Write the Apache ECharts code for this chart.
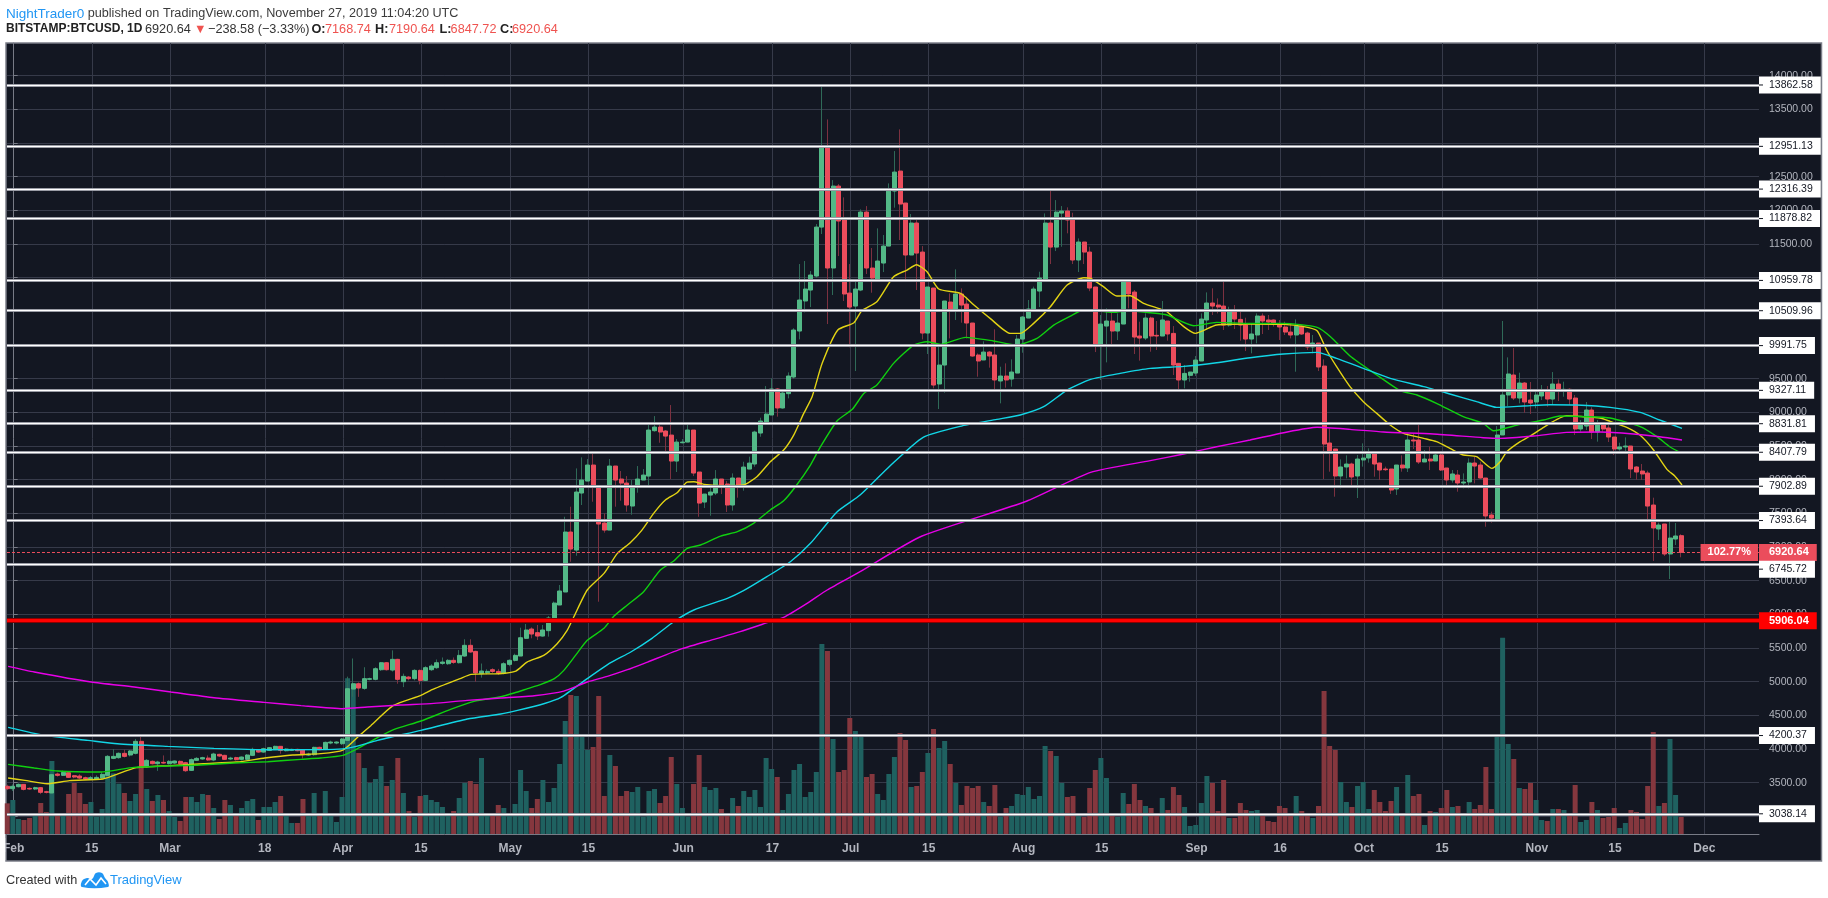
<!DOCTYPE html>
<html><head><meta charset="utf-8">
<style>html,body{margin:0;padding:0;background:#fff}#c{width:1828px;height:898px}</style>
<script src="https://cdn.jsdelivr.net/npm/echarts@6/dist/echarts.min.js"></script>
</head><body><div id="c"></div>
<script>
// day numbers: 0 = 1 Feb 2019. Each row: [open, close, low, high]
const jan = [[3446,3411,3390,3470]];
const feb = [[3411,3446,3376,3475],[3440,3475,3430,3490],[3475,3401,3385,3480],[3416,3406,3395,3430],[3406,3426,3390,3440],[3426,3357,3330,3435],[3366,3357,3340,3380],[3347,3619,3340,3635],[3629,3609,3590,3650],[3609,3654,3600,3680],
[3649,3579,3570,3655],[3604,3584,3565,3615],[3599,3569,3555,3625],[3574,3555,3545,3590],[3555,3574,3545,3600],[3555,3579,3540,3610],[3569,3624,3560,3660],[3609,3891,3600,3910],[3861,3891,3850,4000],[3872,3936,3855,3950],
[3936,3891,3875,3990],[3911,3971,3890,3985],[3936,4114,3920,4150],[4114,3733,3700,4190],[3733,3832,3722,3850],[3817,3782,3770,3830],[3782,3807,3675,3825],[3802,3792,3780,3905]];
const mar = [[3782,3817,3770,3835],[3792,3822,3775,3830],[3817,3782,3770,3830],[3797,3678,3660,3810],[3683,3842,3675,3860],[3832,3861,3825,3880],[3852,3872,3840,3885],[3866,3837,3825,3905],[3837,3926,3820,3945],[3921,3896,3880,3930],
[3906,3847,3840,3915],[3852,3866,3835,3885],[3872,3842,3830,3885],[3847,3881,3830,3890],[3847,3911,3835,3925],[3906,3995,3895,4020],[3990,3955,3945,4000],[3955,4005,3945,4020],[3980,4020,3970,4030],[3995,4040,3985,4050],
[4040,3980,3930,4045],[3975,4000,3965,4010],[3980,3995,3970,4005],[3995,3975,3965,4005],[3990,3916,3860,4000],[3910,3925,3895,3945],[3916,4025,3900,4035],[4025,3990,3980,4035],[3995,4099,3985,4110],[4089,4104,4070,4125],[4089,4104,4070,4115]];
const apr = [[4079,4149,4060,4165],[4129,4896,4120,5075],[4891,4970,4775,5345],[4970,4906,4775,4990],[4901,5045,4880,5215],[5035,5045,5020,5060],[5035,5193,5020,5215],[5178,5282,5160,5290],[5282,5178,5165,5290],[5173,5332,5150,5465],
[5332,5035,4970,5340],[5000,5079,4920,5120],[5069,5045,5020,5085],[5045,5168,5020,5185],[5168,5020,4960,5180],[5020,5208,5010,5230],[5178,5233,5160,5260],[5208,5282,5190,5330],[5272,5292,5250,5360],[5267,5317,5250,5335],
[5317,5287,5265,5360],[5282,5391,5270,5470],[5381,5540,5370,5630],[5540,5441,5430,5630],[5450,5129,5000,5460],[5119,5158,5060,5270],[5134,5153,5110,5185],[5178,5153,5130,5200],[5153,5129,5100,5190],[5129,5267,5110,5290]];
const may = [[5257,5317,5230,5332],[5317,5391,5300,5416],[5381,5653,5381,5802],[5644,5768,5634,5857],[5782,5708,5644,5807],[5728,5678,5619,5842],[5678,5768,5669,5842],[5758,5946,5669,5975],[5946,6168,5946,6190],[6139,6347,6139,6436],
[6332,7223,6332,7450],[7223,6970,6782,7599],[6955,7817,6871,8168],[7802,7995,7624,8332],[7980,8218,7980,8307],[8218,7886,7673,8391],[7896,7342,6188,7896],[7356,7252,7213,7500],[7252,8203,7252,8307],[8203,7995,7599,8203],
[8010,7950,7688,8129],[7950,7624,7525,8054],[7609,7891,7480,7995],[7886,8010,7807,8203],[7995,8069,7995,8158],[8054,8738,7896,8812],[8728,8782,8713,8945],[8782,8708,8549,8827],[8723,8648,8426,8738],[8663,8277,8010,9109],[8277,8559,8114,8604]];
const jun = [[8549,8559,8539,8604],[8559,8738,8559,8851],[8738,8099,8054,8738],[8114,7653,7450,8114],[7668,7787,7579,7787],[7772,7817,7465,7896],[7802,8010,7772,8143],[8010,7906,7787,8010],[7936,7624,7520,7980],[7624,8025,7540,8094],
[8025,7921,7733,8025],[7921,8188,7837,8267],[8158,8247,8158,8342],[8233,8708,8193,8728],[8693,8871,8638,8921],[8851,8975,8812,9391],[8961,9347,8960,9505],[9347,9065,8936,9360],[9065,9287,9055,9332],[9278,9540,9208,9594],
[9525,10223,9500,10250],[10208,10669,10084,11203],[10654,10832,10485,11248],[10817,11040,10564,11099],[11025,11752,11000,11797],[11752,12926,11649,13876],[12926,11144,10312,13351],[11144,12361,10743,12450],[12361,11842,11322,12391],[11871,10758,10654,12193]];
const jul = [[10772,10564,9966,11203],[10579,10832,9614,10941],[10817,11975,10800,12015],[11975,11144,11055,12064],[11144,10995,10777,11441],[10980,11248,10980,11733],[11218,11470,11084,11634],[11470,12287,11470,12401],[12287,12569,12040,12881],[12584,12094,11560,13203],
[12109,11337,10966,12109],[11337,11812,11337,11946],[11812,11366,10817,11857],[11381,10178,10084,11470],[10178,10862,9867,10862],[10847,9406,9357,10847],[9421,9703,9050,10015],[9703,10654,9292,10654],[10639,10520,10099,10767],[10520,10758,10372,11124],
[10758,10594,10332,10842],[10609,10327,10099,10718],[10327,9837,9827,10327],[9852,9763,9530,9876],[9778,9896,9778,10055],[9896,9837,9664,9911],[9852,9481,9307,10233],[9466,9540,9134,9678],[9540,9481,9367,9728],[9495,9599,9382,9787],[9584,10089,9584,10149]];
const aug = [[10089,10416,9886,10431],[10401,10535,10401,10669],[10520,10832,10520,10867],[10802,10995,10564,11089],[10980,11812,10980,11955],[11812,11455,11203,12332],[11455,11975,11396,12153],[11960,11990,11460,12064],[11990,11857,11659,12045],[11871,11263,11203,11965],
[11263,11530,11084,11584],[11530,11381,11203,11530],[11381,10847,10800,11460],[10862,10015,9896,10862],[10015,10312,9481,10446],[10282,10357,9743,10545],[10357,10208,9985,10520],[10208,10327,10074,10470],[10312,10936,10312,10966],[10936,10758,10545,10966],
[10787,10119,9867,10817],[10134,10104,9768,10347],[10104,10401,10074,10470],[10401,10134,9901,10421],[10144,10134,9926,10357],[10134,10372,10134,10654],[10357,10164,10065,10357],[10173,9703,9555,10282],[9728,9481,9332,9728],[9481,9579,9357,9703],[9550,9599,9456,9599]];
const sep = [[9584,9777,9540,9837],[9763,10386,9763,10470],[10372,10624,10223,10782],[10624,10579,10446,10842],[10594,10565,10470,10693],[10579,10297,10223,10951],[10297,10500,10273,10569],[10500,10386,10238,10594],[10381,10297,10065,10495],[10297,10089,9911,10406],
[10089,10164,9877,10322],[10149,10431,10025,10470],[10431,10357,10164,10470],[10372,10342,10223,10446],[10372,10322,10273,10381],[10297,10268,10075,10372],[10268,10193,10149,10347],[10193,10149,10099,10322],[10149,10282,9604,10381],[10282,10164,10149,10297],
[10178,9971,9926,10198],[9971,10030,9877,10149],[10030,9674,9614,10030],[9688,8530,8010,9787],[8545,8426,8119,8763],[8456,8055,7748,8456],[8055,8189,7872,8302],[8189,8233,8020,8362],[8233,8040,7906,8253],[8055,8307,7728,8367]];
const oct = [[8293,8322,8194,8540],[8322,8382,8253,8466],[8382,8233,8045,8416],[8248,8144,7996,8253],[8159,8149,8130,8194],[8159,7847,7788,8159],[7862,8218,7773,8218],[8218,8174,8119,8362],[8174,8590,8114,8688],[8590,8575,8456,8688],
[8590,8263,8233,8827],[8263,8307,8263,8441],[8307,8278,8144,8490],[8278,8367,8278,8391],[8367,8144,8129,8416],[8174,7996,7921,8174],[7996,8085,7956,8144],[8070,7951,7822,8144],[7951,7966,7872,8094],[7966,8248,7872,8317],
[8248,8203,7946,8342],[8218,8025,8015,8268],[8025,7461,7302,8025],[7476,7431,7362,7525],[7416,8664,7402,8797],[8664,9258,8664,10357],[9258,9570,9094,9817],[9555,9213,9183,9956],[9213,9436,9134,9589],[9436,9154,8995,9451],[9183,9139,8976,9451]];
const nov = [[9154,9258,9060,9332],[9243,9317,9183,9406],[9317,9198,9085,9391],[9198,9421,9124,9599],[9421,9317,9169,9490],[9317,9342,9233,9456],[9342,9198,9109,9357],[9213,8753,8664,9258],[8753,8812,8713,8887],[8797,9035,8738,9154],
[9035,8708,8604,9075],[8708,8827,8565,8887],[8827,8753,8713,8837],[8768,8634,8560,8837],[8634,8456,8367,8634],[8456,8486,8431,8550],[8486,8500,8382,8629],[8500,8159,8025,8500],[8189,8114,8000,8203],[8129,8085,7995,8233],
[8099,7609,7401,8134],[7624,7283,6793,7733],[7268,7327,7105,7362],[7342,6897,6867,7342],[6897,7134,6525,7387],[7119,7164,7030,7357],[7168.74,6920.64,6847.72,7190.64]];

const volumes = [92,
102,45,42,48,57,93,66,219,57,59,120,153,123,90,96,52,75,177,182,151,123,99,120,202,135,99,117,102,
69,51,39,111,111,96,120,117,78,45,102,87,63,78,99,105,42,81,81,96,114,54,33,33,105,57,123,60,129,57,36,
111,467,437,243,198,153,165,204,144,162,228,123,69,51,114,117,102,96,81,60,69,108,153,159,150,228,60,57,87,78,
57,90,192,129,78,105,162,96,138,210,339,417,414,291,252,261,414,114,237,204,114,129,126,141,52,129,135,93,114,231,150,
78,52,150,237,141,132,138,75,62,108,84,129,111,132,81,228,195,171,72,120,192,210,111,126,186,570,549,285,186,192,
348,309,294,171,180,120,102,180,231,303,282,141,144,186,243,315,258,279,210,153,87,144,138,144,96,84,147,52,78,84,120,
117,141,105,114,264,249,234,153,111,114,62,51,138,192,228,168,60,51,123,90,150,102,84,78,60,108,72,141,117,81,24,
27,93,174,153,69,162,48,48,93,72,69,72,60,39,36,84,78,60,114,69,60,48,84,429,264,252,156,96,81,144,
156,75,132,96,69,99,141,54,177,114,120,27,69,66,78,132,81,84,54,96,75,87,201,75,291,589,270,225,138,135,153,
102,42,39,75,75,72,63,147,36,42,96,72,48,51,78,18,33,72,66,45,144,306,84,93,285,117,51];

// moving averages: [day number, price]
const maYellow = [[-1,3570],[2,3535],[6,3485],[10,3530],[16,3555],[18,3609],[22,3723],[28,3753],[34,3782],[40,3807],[45,3866],[50,3911],[55,3931],[59,3985],[62,4203],[64,4347],[68,4644],[73,4797],[75,4881],[80,5045],[82,5109],[87,5119],[90,5158],[92,5292],[95,5391],[97.4,5564],[99.2,5762],[100.4,5965],[102.8,6362],[105.8,6609],[108.2,6906],[110.5,7064],[112.6,7252],[114.7,7500],[116.8,7698],[118.9,7807],[120.7,7965],[121.9,7970],[123.7,7931],[127.9,7911],[130.8,7921],[133.2,8045],[135.6,8267],[138,8441],[139.8,8663],[141.6,8985],[143.1,9233],[144.9,9728],[147.7,10223],[150.6,10332],[152,10510],[154.7,10644],[157.7,11015],[160.1,11114],[161.8,11193],[163.7,11089],[165.8,10832],[169.7,10767],[172.1,10594],[175,10396],[178.6,10173],[180.4,10173],[182.8,10322],[185.8,10569],[188.8,10891],[191.8,11000],[193,10990],[195.3,10867],[197.7,10728],[200.1,10733],[202.5,10619],[205.5,10535],[206.7,10495],[209.7,10273],[211.8,10173],[215.6,10297],[221.6,10312],[227.6,10307],[231.2,10273],[233.6,10213],[235.3,9926],[237.1,9678],[239.5,9382],[241.9,9159],[244.3,8985],[246.7,8812],[249.1,8688],[252.7,8614],[255,8565],[257.4,8466],[259.8,8367],[262.2,8342],[264.9,8169],[266.4,8268],[267.6,8416],[270,8565],[271.8,8649],[274.2,8778],[276.6,8896],[278.3,8951],[281.3,8936],[284.3,8916],[286.1,8867],[289.1,8778],[291.5,8659],[293.9,8441],[296.3,8154],[297.7,8055],[299,7921]];
const maGreen = [[-1,3772],[3.7,3718],[7.9,3673],[15.6,3659],[21.6,3728],[33.5,3763],[39.5,3792],[45.5,3812],[51.5,3847],[55,3866],[59,3906],[61.6,4005],[65.2,4169],[68.2,4292],[73,4416],[78.3,4589],[82.5,4708],[87.3,4777],[89.7,4832],[92.1,4896],[94.5,4960],[96.9,5045],[98.6,5168],[100.7,5391],[102.8,5614],[105.8,5793],[107.6,5975],[110,6139],[112.9,6337],[115.9,6658],[118.3,6792],[120.7,6980],[123.1,7030],[126.7,7163],[129.7,7228],[132.6,7351],[135.6,7550],[138,7688],[140.1,7896],[142.8,8218],[144.6,8490],[147.6,8876],[150.3,9045],[152.4,9283],[154.7,9406],[157.7,9728],[161.3,10000],[163.7,10050],[166.1,10010],[170.6,10114],[175.6,10060],[179.8,10000],[183.4,10099],[186.4,10297],[189.4,10431],[191.8,10525],[197.1,10485],[200.1,10510],[203.7,10480],[206.7,10446],[211.5,10287],[215.6,10337],[221.6,10322],[227.6,10322],[233.6,10263],[236,10124],[239.5,9837],[244.3,9555],[248.5,9322],[251.5,9258],[255,9134],[259.8,8936],[263.4,8837],[265.2,8728],[270,8822],[274.2,8887],[277.1,8946],[281.9,8936],[286.1,8916],[291.5,8787],[294.5,8639],[296.8,8490],[299,8391]];
const maCyan = [[-1,4322],[5.5,4203],[13.3,4129],[18.6,4079],[27.6,4040],[35.9,4010],[45.5,3990],[57.4,3995],[60.4,4020],[65.2,4129],[73,4277],[81.3,4446],[87.3,4520],[90.3,4574],[95,4673],[98,4762],[102.8,5045],[107,5282],[110.6,5441],[114.4,5644],[118.3,5891],[121.9,6065],[127.9,6238],[130.8,6352],[135,6560],[139.2,6782],[142.8,7055],[147.6,7525],[151.7,7772],[157,8200],[163,8630],[170,8800],[176.2,8896],[180.4,8961],[184.6,9084],[188.8,9332],[193,9490],[198.3,9580],[203.7,9654],[209.7,9683],[215.6,9738],[221.6,9812],[227.6,9867],[233.6,9891],[237.1,9802],[241.9,9654],[246.7,9505],[252.7,9382],[257.4,9273],[262.2,9159],[265.8,9075],[270.6,9094],[275.4,9114],[280.1,9109],[286.1,9075],[291.5,9000],[295,8887],[299,8763]];
const maMagenta = [[-1,5228],[3.7,5144],[13.9,4995],[21.6,4921],[28.2,4847],[35.9,4762],[44.9,4693],[51.5,4644],[59,4599],[63.4,4624],[69.4,4654],[75.3,4678],[81.3,4723],[87.3,4757],[93.3,4792],[98.6,4861],[102.8,4995],[106.4,5079],[110,5178],[113.6,5292],[119.8,5490],[125.5,5629],[130.2,5743],[135.6,5891],[138,5956],[142.2,6164],[145.8,6362],[151.7,6634],[162.7,7160],[181.5,7680],[193,8110],[203.7,8283],[209.7,8382],[215.6,8490],[221.6,8590],[227.6,8698],[233.6,8778],[239.5,8748],[245.5,8708],[254.4,8679],[263.4,8624],[266.4,8614],[272.4,8649],[278.3,8703],[284.3,8708],[290.3,8679],[295,8639],[299,8589]];

const levels = [13862.58,12951.13,12316.39,11878.82,10959.78,10509.96,9991.75,9327.11,8831.81,8407.79,7902.89,7393.64,6745.72,4200.37,3038.14];
const supportLevel = 5906.04;
const lastClose = 6920.64;
const lastPct = '102.77%';
const priceTicks = [3000,3500,4000,4500,5000,5500,6000,6500,7000,7500,8000,8500,9000,9500,10000,10500,11000,11500,12000,12500,13000,13500,14000];
const dayTicks = [0,14,28,45,59,73,89,103,120,136,150,164,181,195,212,227,242,256,273,287,303];
const dayTickLabels = ['Feb','15','Mar','18','Apr','15','May','15','Jun','17','Jul','15','Aug','15','Sep','16','Oct','15','Nov','15','Dec'];

const rows = [].concat(jan,feb,mar,apr,may,jun,jul,aug,sep,oct,nov);
const UP='#53b987', DOWN='#eb4d5c', UPW='#2f6a58', DOWNW='#7c3140', VUP='#1f6160', VDOWN='#85373e';
const FONT='Liberation Sans';
const barShift = -0.15; // TradingView snaps bars slightly left of their date grid line

const levelEdge = v => ({yAxis:v,lineStyle:{color:'#9a9ca5',width:3,type:'solid'},label:{show:false}});
const levelCore = v => ({
  yAxis: v,
  lineStyle: {color:'#ffffff', width:1, type:'solid'},
  label: {
    show:true, position:'end', distance:0,
    offset: v===6745.72 ? [0,5] : [0,0],
    formatter: '{t|}{v|'+v.toFixed(2)+'}',
    backgroundColor:'#fff', padding:0,
    rich:{
      t:{width:4,height:1,backgroundColor:'#131722'},
      v:{color:'#131722',fontFamily:FONT,fontSize:10.5,padding:[0,8,0,6],lineHeight:17}
    }
  }
});
const tagLabel = (text,bg,extra) => Object.assign({show:true,position:'end',distance:0,formatter:text,backgroundColor:bg,color:'#fff',fontFamily:FONT,fontWeight:'bold',fontSize:11,
  padding:[0,8,0,10],lineHeight:17},extra||{});
const txt = (x,y,text,fill,size,weight) => ({type:'text',z:50,x,y,silent:true,style:{text,fill,fontFamily:FONT,fontSize:size,fontWeight:weight||'normal'}});
const chart = echarts.init(document.getElementById('c'),null,{renderer:'canvas'});
chart.setOption({
  animation:false,
  backgroundColor:'#fff',
  grid:{left:6,right:69,top:43,bottom:64,containLabel:false},
  xAxis:{type:'value',min:-1.2,max:312.8,
    axisLine:{show:true,onZero:false,lineStyle:{color:'#787b86',width:1}},
    axisTick:{show:false,customValues:dayTicks},
    splitLine:{show:true,lineStyle:{color:'#363a49',width:1}},
    axisLabel:{customValues:dayTicks,color:'#b2b5be',fontFamily:FONT,fontSize:12,fontWeight:'bold',margin:9,
      formatter:v=>dayTickLabels[dayTicks.indexOf(v)]||''}
  },
  yAxis:[
   {type:'value',position:'right',min:2738,max:14486,scale:true,
    axisLine:{show:true,lineStyle:{color:'#787b86',width:1}},
    axisTick:{show:true,length:4,customValues:priceTicks,lineStyle:{color:'#787b86'}},
    splitLine:{show:true,lineStyle:{color:'#363a49',width:1}},
    axisLabel:{customValues:priceTicks,color:'#b2b5be',fontFamily:FONT,fontSize:10.5,margin:10,
      formatter:v=>v.toFixed(2)}},
   {type:'value',show:false,min:0,max:2373,splitLine:{show:false}}
  ],
  series:[
   {name:'Volume',type:'bar',yAxisIndex:1,barWidth:5,z:1,
    data:rows.map((r,i)=>({value:[i-1+barShift,volumes[i]],itemStyle:{color:r[1]>=r[0]?VUP:VDOWN}}))},
   {name:'Wicks',type:'candlestick',barWidth:1,z:2,
    itemStyle:{color:UPW,color0:DOWNW,borderColor:UPW,borderColor0:DOWNW,borderWidth:1},
    data:rows.map((r,i)=>[i-1+barShift,r[0],r[1],r[2],r[3]])},
   {name:'Candles',type:'candlestick',barWidth:4.5,z:3,
    itemStyle:{color:UP,color0:DOWN,borderColor:UP,borderColor0:DOWN,borderWidth:1},
    data:rows.map((r,i)=>[i-1+barShift,r[0],r[1],Math.min(r[0],r[1]),Math.max(r[0],r[1])]),
    markLine:{silent:true,symbol:'none',animation:false,z:6,
      data:[
       {yAxis:lastClose,lineStyle:{color:DOWN,width:1,type:[3,2]},label:tagLabel(lastClose.toFixed(2),DOWN)},
       {yAxis:lastClose,lineStyle:{color:'rgba(0,0,0,0)',width:1},label:tagLabel(lastPct,DOWN,{position:'insideEnd',distance:1,padding:[0,7,0,7]})},
       ...levels.map(levelEdge),
       ...levels.map(levelCore),
       {yAxis:supportLevel,lineStyle:{color:'#8a0000',width:5,type:'solid'},label:{show:false}},
       {yAxis:supportLevel,lineStyle:{color:'#ff0000',width:3,type:'solid'},label:tagLabel(supportLevel.toFixed(2),'#ff0000')}
      ]}},
   ...[[maYellow,'#e3d414','SMA 21'],[maGreen,'#10d010','SMA 50'],[maCyan,'#12d6e6','SMA 100'],[maMagenta,'#e800e8','SMA 200']].map(([d,c,n])=>({
     name:n,type:'line',data:d,showSymbol:false,symbol:'none',smooth:0.2,z:4,lineStyle:{color:c,width:1.4}
   }))
  ],
  graphic:[
   {type:'rect',z:-10,silent:true,shape:{x:6,y:43,width:1815.5,height:818},style:{fill:'#131722',stroke:'#7b7e88',lineWidth:1.5}},
   {type:'rect',z:50,silent:true,shape:{x:0,y:838,width:5.2,height:22},style:{fill:'#fff'}},
   txt(6,7,'NightTrader0','#2196f3',13.5),
   txt(87.7,7,'published on TradingView.com, November 27, 2019 11:04:20 UTC','#3b3b3b',12.65),
   txt(6,23,'BITSTAMP:BTCUSD, 1D','#222',12,'bold'),
   txt(145,23,'6920.64','#333',12.7),
   txt(194,23,'\u25BC','#ef5350',12.7),
   txt(208,23,'\u2212238.58 (\u22123.33%)','#333',12.7),
   txt(311.5,23,'O:','#222',12.7,'bold'),txt(325,23,'7168.74','#ef5350',12.7),
   txt(375,23,'H:','#222',12.7,'bold'),txt(389,23,'7190.64','#ef5350',12.7),
   txt(439.5,23,'L:','#222',12.7,'bold'),txt(450.6,23,'6847.72','#ef5350',12.7),
   txt(500,23,'C:','#222',12.7,'bold'),txt(512,23,'6920.64','#ef5350',12.7),
   txt(6,874,'Created with','#333',12.7),
   {type:'polygon',z:50,silent:true,shape:{smooth:0.4,points:[[82,887],[82,881],[87,878],[92,879],[96,873],[102,873],[105,878],[108,882],[108,887]]},style:{fill:'#2196f3'}},
   {type:'polyline',z:51,silent:true,shape:{points:[[85,885],[90,879],[96,885],[101,878],[106,884]]},style:{stroke:'#fff',lineWidth:1.6,fill:'none'}},
   txt(110,874,'TradingView','#2196f3',13)
  ]
});
</script></body></html>
